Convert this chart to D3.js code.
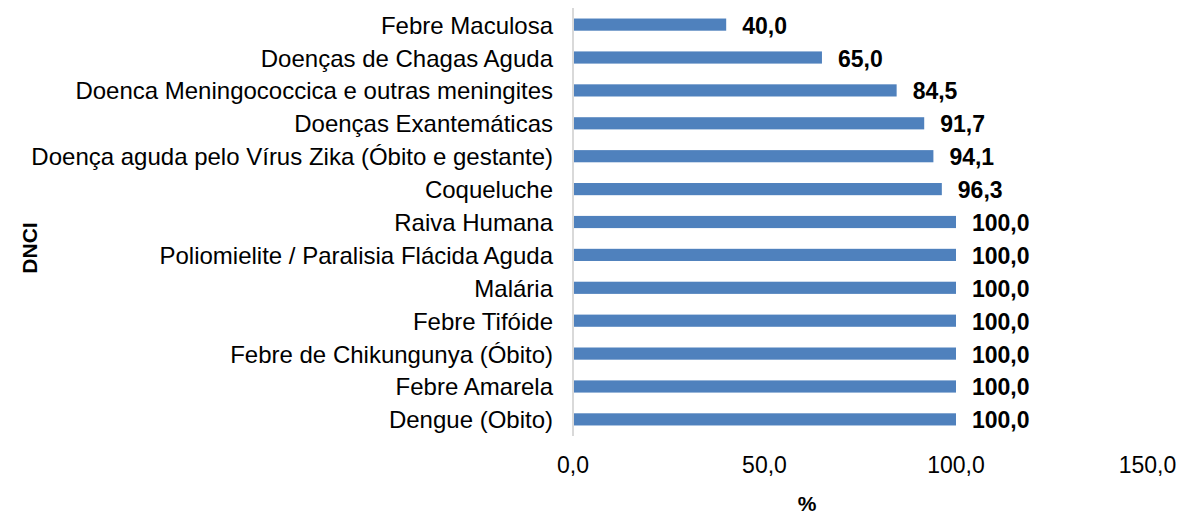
<!DOCTYPE html>
<html>
<head>
<meta charset="utf-8">
<script src="https://cdn.jsdelivr.net/npm/d3@7"></script>
<style>
  body { margin: 0; background: #fff; }
  text { font-family: "Liberation Sans", Arial, sans-serif; fill: #000; }
</style>
</head>
<body>
<svg id="chart" width="1178" height="516"></svg>
<script>
// categories top to bottom
const categories = [
    "Febre Maculosa",
    "Doenças de Chagas Aguda",
    "Doenca Meningococcica e outras meningites",
    "Doenças Exantemáticas",
    "Doença aguda pelo Vírus Zika (Óbito e gestante)",
    "Coqueluche",
    "Raiva Humana",
    "Poliomielite / Paralisia Flácida Aguda",
    "Malária",
    "Febre Tifóide",
    "Febre de Chikungunya (Óbito)",
    "Febre Amarela",
    "Dengue (Obito)"
];
const values = [40.0, 65.0, 84.5, 91.7, 94.1, 96.3, 100.0, 100.0, 100.0, 100.0, 100.0, 100.0, 100.0];
const xTicks = [0, 50, 100, 150];

const fmt = v => v.toFixed(1).replace(".", ",");

const svg = d3.select("#chart");

const x = d3.scaleLinear().domain([0, 150]).range([573, 1147.5]);
const y = d3.scaleBand().domain(categories).range([8, 436]).paddingInner(0.63).paddingOuter(0.32);

//axis line on the left
svg.append("line")
    .attr("x1", x(0)).attr("x2", x(0))
    .attr("y1", 8).attr("y2", 436)
    .attr("stroke", "#d9d9d9")
    .attr("stroke-width", 2);

svg.selectAll(".bar")
    .data(values)
    .enter().append("rect")
    .attr("class", "bar")
    .attr("x", x(0) + 1)
    .attr("y", (d, i) => y(categories[i]))
    .attr("width", d => x(d) - x(0) - 1)
    .attr("height", y.bandwidth())
    .attr("fill", "#4f81bd");

svg.selectAll(".val")
    .data(values)
    .enter().append("text")
    .attr("class", "val")
    .attr("x", d => x(d) + 16)
    .attr("y", (d, i) => y(categories[i]) + y.bandwidth() / 2 + 9)
    .attr("font-size", 23)
    .attr("font-weight", "bold")
    .text(d => fmt(d));

svg.selectAll(".cat")
    .data(categories)
    .enter().append("text")
    .attr("class", "cat")
    .attr("x", 553)
    .attr("y", d => y(d) + y.bandwidth() / 2 + 9)
    .attr("text-anchor", "end")
    .attr("font-size", 24)
    .text(d => d);

svg.selectAll(".tick")
    .data(xTicks)
    .enter().append("text")
    .attr("class", "tick")
    .attr("x", d => x(d))
    .attr("y", 473)
    .attr("text-anchor", "middle")
    .attr("font-size", 23)
    .text(d => fmt(d));

svg.append("text")
    .attr("x", 807).attr("y", 511)
    .attr("text-anchor", "middle")
    .attr("font-size", 21)
    .attr("font-weight", "bold")
    .text("%");

svg.append("text")
    .attr("transform", "translate(37,248) rotate(-90)")
    .attr("text-anchor", "middle")
    .attr("font-size", 21)
    .attr("font-weight", "bold")
    .text("DNCI");
</script>
</body>
</html>
